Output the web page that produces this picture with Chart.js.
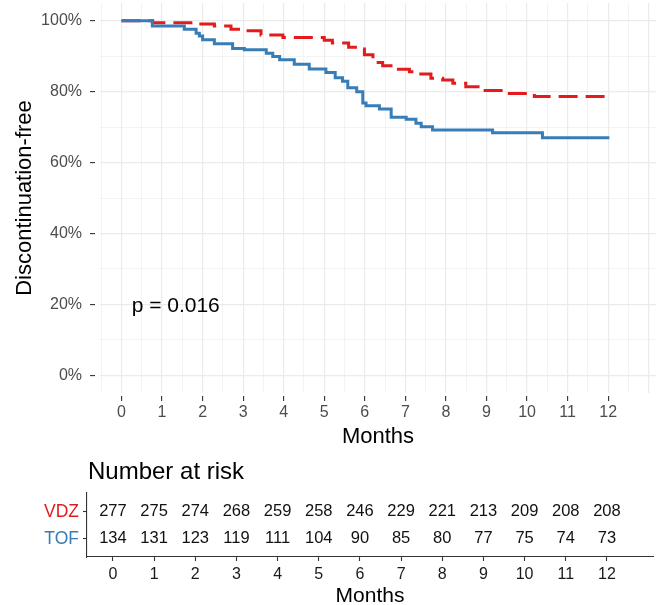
<!DOCTYPE html>
<html>
<head>
<meta charset="utf-8">
<script src="https://cdn.jsdelivr.net/npm/chart.js@4"></script>
<style>
  body{margin:0;background:#fff;}
  #lienzo{position:relative;width:657px;height:605px;overflow:hidden;background:#fff;}
  canvas{position:absolute;left:0;}
</style>
</head>
<body>
<div id="lienzo">
  <canvas id="curvas" width="657" height="450" style="top:0px"></canvas>
  <canvas id="riesgo" width="657" height="155" style="top:450px"></canvas>
</div>
<script>
// curvas Kaplan-Meier (mes del evento, % libre de discontinuacion)
var mesesTOF = [0, 0.76, 1.55, 1.84, 1.92, 2.0, 2.29, 2.74, 3.03, 3.57, 3.73, 3.9, 4.26, 4.63, 5.04, 5.27, 5.45, 5.58, 5.8, 5.95, 6.03, 6.36, 6.65, 7.02, 7.26, 7.39, 7.67, 9.15, 10.38, 12.03];
var survTOF  = [100, 98.5, 97.6, 96.5, 95.7, 94.6, 93.5, 92.2, 91.8, 90.8, 89.9, 89.0, 87.7, 86.4, 85.4, 83.9, 82.9, 81.1, 80.0, 76.8, 76.0, 75.1, 72.8, 72.2, 71.1, 70.1, 69.2, 68.4, 67.0, 67.0];
var mesesVDZ = [0, 0.77, 1.84, 2.29, 2.7, 3.0, 3.44, 3.98, 5.0, 5.2, 5.6, 5.83, 5.99, 6.2, 6.44, 6.69, 7.1, 7.34, 7.63, 7.92, 8.17, 8.49, 8.86, 9.52, 10.18, 12.0];
var survVDZ  = [100, 99.4, 99.1, 98.5, 97.6, 97.2, 96.0, 95.3, 94.5, 93.7, 92.5, 92.0, 90.4, 88.2, 87.3, 86.3, 85.6, 85.0, 83.8, 83.3, 82.4, 81.4, 80.3, 79.5, 78.6, 78.6];

// tabla de pacientes en riesgo
var mesesRiesgo = [0, 1, 2, 3, 4, 5, 6, 7, 8, 9, 10, 11, 12];
var riesgoVDZ = [277, 275, 274, 268, 259, 258, 246, 229, 221, 213, 209, 208, 208];
var riesgoTOF = [134, 131, 123, 119, 111, 104, 90, 85, 80, 77, 75, 74, 73];

var ticksY = [0, 10, 20, 30, 40, 50, 60, 70, 80, 90, 100];
var ticksX = [];
for (var i = -1; i <= 26; i++) { ticksX.push(i * 0.5); }

var textoPvalor = 'p = 0.016';
var posPvalor = [0.25, 19.4];

var rojo = '#E41A1C';
var azul = '#377EB8';
var fuente = '"Liberation Sans", Arial, Helvetica, sans-serif';

Chart.defaults.font.family = fuente;
Chart.defaults.animation = false;

function sinPadding(scale){
  scale.paddingTop = 0;
  scale.paddingBottom = 0;
  scale.paddingLeft = 0;
  scale.paddingRight = 0;
}

function puntos(meses, valores){
  var out = [];
  for (var i = 0; i < meses.length; i++) { out.push({x: meses[i], y: valores[i]}); }
  return out;
}

var textoP = {
  id: 'textoP',
  afterDatasetsDraw: function(chart){
    var ctx = chart.ctx;
    var x = chart.scales.x.getPixelForValue(posPvalor[0]);
    var y = chart.scales.y.getPixelForValue(posPvalor[1]);
    ctx.save();
    ctx.font = '21px ' + fuente;
    ctx.fillStyle = '#000';
    ctx.textAlign = 'left';
    ctx.textBaseline = 'middle';
    ctx.fillText(textoPvalor, x, y);
    ctx.restore();
  }
};

new Chart(document.getElementById('curvas'), {
  type: 'line',
  data: {
    datasets: [{
      label: 'TOF',
      data: puntos(mesesTOF, survTOF),
      borderColor: azul,
      borderWidth: 3,
      pointRadius: 0,
      stepped: true,
      fill: false
    }, {
      label: 'VDZ',
      data: puntos(mesesVDZ, survVDZ),
      borderColor: rojo,
      borderWidth: 3,
      borderDash: [19, 8],
      pointRadius: 0,
      stepped: true,
      fill: false
    }]
  },
  options: {
    responsive: false,
    devicePixelRatio: 1,
    layout: { padding: { top: 3, right: 1, left: 0, bottom: 0 } },
    plugins: { legend: { display: false }, tooltip: { enabled: false } },
    scales: {
      x: {
        type: 'linear',
        min: -0.53,
        max: 13.18,
        afterBuildTicks: function(scale){
          scale.ticks = ticksX.map(function(v){ return {value: v}; });
        },
        afterFit: function(scale){ scale.height = 57; sinPadding(scale); },
        border: { display: false },
        grid: {
          color: '#EBEBEB',
          lineWidth: function(c){ return (c.tick && c.tick.value % 1 === 0) ? 1.2 : 0.6; },
          tickLength: 8,
          tickWidth: 1.1,
          tickBorderDash: [0, 3, 5, 100],
          tickColor: function(c){
            var v = c.tick ? c.tick.value : -1;
            return (v % 1 === 0 && v >= 0 && v <= 12) ? '#333333' : 'rgba(0,0,0,0)';
          }
        },
        ticks: {
          autoSkip: false,
          maxRotation: 0,
          padding: 2,
          color: '#4D4D4D',
          font: { size: 16 },
          callback: function(v){ return (v % 1 === 0 && v >= 0 && v <= 12) ? String(v) : ''; }
        },
        title: {
          display: true,
          text: 'Months',
          color: '#000',
          font: { size: 22 },
          padding: { top: 0, bottom: 0 }
        }
      },
      y: {
        min: -5,
        max: 105,
        afterBuildTicks: function(scale){
          scale.ticks = ticksY.map(function(v){ return {value: v}; });
        },
        afterFit: function(scale){ scale.width = 100; sinPadding(scale); },
        border: { display: false },
        grid: {
          color: '#EBEBEB',
          lineWidth: function(c){ return (c.tick && c.tick.value % 20 === 0) ? 1.2 : 0.6; },
          tickLength: 10,
          tickWidth: 1.1,
          tickBorderDash: [5, 100],
          tickColor: function(c){
            return (c.tick && c.tick.value % 20 === 0) ? '#333333' : 'rgba(0,0,0,0)';
          }
        },
        ticks: {
          autoSkip: false,
          padding: 8,
          color: '#4D4D4D',
          font: { size: 16 },
          callback: function(v){ return v % 20 === 0 ? v + '%' : ''; }
        },
        title: {
          display: true,
          text: 'Discontinuation-free',
          color: '#000',
          font: { size: 22 },
          padding: { top: 12, bottom: 0 }
        }
      }
    }
  },
  plugins: [textoP]
});

// tabla en riesgo
var numerosRiesgo = {
  id: 'numerosRiesgo',
  afterDatasetsDraw: function(chart){
    var ctx = chart.ctx;
    ctx.save();
    ctx.font = '16.5px ' + fuente;
    ctx.fillStyle = '#111';
    ctx.textAlign = 'center';
    ctx.textBaseline = 'middle';
    chart.data.datasets.forEach(function(ds, i){
      var meta = chart.getDatasetMeta(i);
      meta.data.forEach(function(p, j){
        ctx.fillText(String(ds.numeros[j]), p.x, p.y);
      });
    });
    ctx.font = '24px ' + fuente;
    ctx.fillStyle = '#000';
    ctx.textAlign = 'left';
    ctx.fillText('Number at risk', 88, 22);
    ctx.restore();
  }
};

new Chart(document.getElementById('riesgo'), {
  type: 'scatter',
  data: {
    datasets: [{
      label: 'VDZ',
      data: mesesRiesgo.map(function(m){ return {x: m, y: 2}; }),
      numeros: riesgoVDZ,
      pointRadius: 0
    }, {
      label: 'TOF',
      data: mesesRiesgo.map(function(m){ return {x: m, y: 1}; }),
      numeros: riesgoTOF,
      pointRadius: 0
    }]
  },
  options: {
    responsive: false,
    devicePixelRatio: 1,
    layout: { padding: { top: 43, right: 4, left: 0, bottom: 0 } },
    plugins: { legend: { display: false }, tooltip: { enabled: false } },
    scales: {
      x: {
        type: 'linear',
        min: -0.63,
        max: 13.12,
        afterBuildTicks: function(scale){
          scale.ticks = mesesRiesgo.map(function(v){ return {value: v}; });
        },
        afterFit: function(scale){ scale.height = 48; sinPadding(scale); },
        border: { display: true, color: '#333333', width: 1.1 },
        grid: { drawOnChartArea: false, tickLength: 4, tickColor: '#333333', tickWidth: 1.1 },
        ticks: {
          autoSkip: false,
          maxRotation: 0,
          padding: 4,
          color: '#1A1A1A',
          font: { size: 16 }
        },
        title: {
          display: true,
          text: 'Months',
          color: '#000',
          font: { size: 21, lineHeight: 0.8 },
          padding: { top: 0, bottom: 0 }
        }
      },
      y: {
        type: 'linear',
        min: 0.33,
        max: 2.70,
        afterBuildTicks: function(scale){
          scale.ticks = [{value: 1}, {value: 2}];
        },
        afterFit: function(scale){ scale.width = 87; sinPadding(scale); },
        border: { display: true, color: '#333333', width: 1.1 },
        grid: { drawOnChartArea: false, tickLength: 4, tickColor: '#333333', tickWidth: 1.1 },
        ticks: {
          autoSkip: false,
          padding: 4,
          font: { size: 17.5 },
          color: function(c){ return (c.tick && c.tick.value === 2) ? rojo : azul; },
          callback: function(v){ return v === 2 ? 'VDZ' : 'TOF'; }
        }
      }
    }
  },
  plugins: [numerosRiesgo]
});
</script>
</body>
</html>
